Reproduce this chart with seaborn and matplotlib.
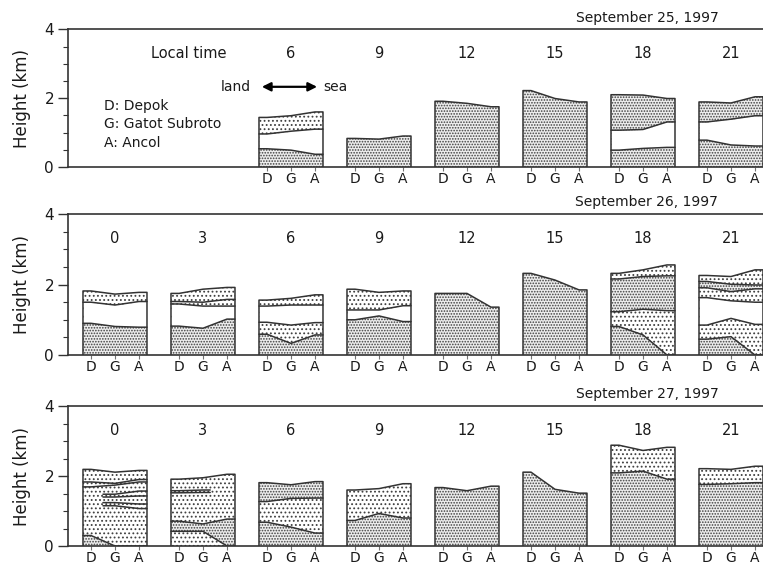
import numpy as np
import pandas as pd
import matplotlib
matplotlib.use("Agg")
import matplotlib.pyplot as plt
import seaborn as sns

nan = np.nan

days = ["September 25, 1997", "September 26, 1997", "September 27, 1997"]
hours = [0, 3, 6, 9, 12, 15, 18, 21]
stations = ["D", "G", "A"]
station_names = ["D: Depok", "G: Gatot Subroto", "A: Ancol"]

# Layer boundaries (km) at D, G, A, listed top to bottom.
# Code = fill below the line: 'd' dense dots, 's' sparse dots, 'w' clear, None = line only.
sep25 = {
    6:  [([1.44, 1.49, 1.60], 's'), ([0.96, 1.04, 1.10], 'w'), ([0.53, 0.49, 0.37], 'd')],
    9:  [([0.83, 0.81, 0.90], 'd')],
    12: [([1.91, 1.85, 1.75], 'd')],
    15: [([2.22, 1.99, 1.89], 'd')],
    18: [([2.10, 2.09, 1.99], 'd'), ([1.07, 1.09, 1.31], 'w'), ([0.49, 0.54, 0.57], 'd')],
    21: [([1.89, 1.86, 2.04], 'd'), ([1.31, 1.39, 1.49], 'w'), ([0.78, 0.64, 0.61], 'd')],
}
sep26 = {
    0:  [([1.82, 1.73, 1.78], 's'), ([1.50, 1.42, 1.52], 'w'), ([0.90, 0.81, 0.79], 'd')],
    3:  [([1.75, 1.87, 1.92], 's'), ([1.52, 1.50, 1.58], 's'), ([1.45, 1.39, 1.39], 'w'),
         ([0.82, 0.76, 1.02], 'd')],
    6:  [([1.56, 1.61, 1.71], 's'), ([1.39, 1.42, 1.42], 'w'), ([0.93, 0.85, 0.92], 's'),
         ([0.59, 0.33, 0.57], 'd')],
    9:  [([1.87, 1.78, 1.82], 's'), ([1.28, 1.28, 1.40], 'w'), ([1.00, 1.11, 0.95], 'd')],
    12: [([1.75, 1.75, 1.36], 'd')],
    15: [([2.32, 2.13, 1.85], 'd')],
    18: [([2.32, 2.42, 2.56], 's'), ([2.16, 2.23, 2.25], 'd'), ([1.23, 1.30, 1.26], 's'),
         ([0.81, 0.57, 0.00], 'd')],
    21: [([2.26, 2.23, 2.42], 's'), ([2.09, 2.01, 1.99], 'd'), ([1.91, 1.80, 1.88], 's'),
         ([1.63, 1.54, 1.50], 'w'), ([0.85, 1.04, 0.87], 's'), ([0.45, 0.52, 0.00], 'd')],
}
sep27 = {
    0:  [([2.19, 2.11, 2.16], 's'), ([1.83, 1.79, 1.90], None), ([1.69, 1.74, 1.83], None),
         ([nan, 1.48, 1.57], None), ([nan, 1.40, 1.43], None), ([nan, 1.24, 1.20], None),
         ([nan, 1.15, 1.07], None), ([0.30, 0.00, 0.00], 'd')],
    3:  [([1.91, 1.95, 2.05], 's'), ([1.58, 1.60, nan], None), ([1.52, 1.53, nan], None),
         ([0.71, 0.63, 0.77], 'd'), ([0.42, 0.42, 0.00], 's')],
    6:  [([1.81, 1.75, 1.84], 'd'), ([1.27, 1.36, 1.37], 's'), ([0.68, 0.54, 0.37], 'd')],
    9:  [([1.60, 1.64, 1.78], 's'), ([0.73, 0.93, 0.80], 'd')],
    12: [([1.67, 1.58, 1.71], 'd')],
    15: [([2.11, 1.62, 1.51], 'd')],
    18: [([2.88, 2.73, 2.82], 's'), ([2.09, 2.14, 1.91], 'd')],
    21: [([2.21, 2.19, 2.28], 's'), ([1.76, 1.78, 1.81], 'd')],
}
panels = [sep25, sep26, sep27]

# ---------------- style ----------------
sns.set_style("ticks")
plt.rcParams.update({
    "font.family": ["DejaVu Sans"],
    "hatch.linewidth": 0.8,
    "hatch.color": "0.3",
    "axes.edgecolor": "0.2",
    "axes.linewidth": 1.2,
    "xtick.color": "0.45",
    "ytick.color": "0.2",
    "xtick.labelcolor": "0.1",
    "ytick.labelcolor": "0.1",
    "text.color": "0.1",
    "axes.labelcolor": "0.1",
})

STEP = 11.0 / 3.0          # distance between groups (station spacing = 1)
EDGE = 1.0 / 3.0           # box margin beyond D and A
FILL = {'d': ('0.93', '......'), 's': ('white', '....'), 'w': ('white', None)}
LINE_C = "0.2"

fig = plt.figure(figsize=(7.63, 5.64), dpi=100)
boxes = [(0.0891, 0.7039, 0.9109, 0.2441),
         (0.0891, 0.3706, 0.9109, 0.2495),
         (0.0891, 0.0319, 0.9109, 0.2482)]

for p, (data, day, box) in enumerate(zip(panels, days, boxes)):
    ax = fig.add_axes(box)
    rows = []
    tick_pos, tick_lab = [], []
    uid = 0
    for gi, hr in enumerate(hours):
        off = gi * STEP
        if hr in data:
            layers = data[hr]
            xf = off + np.array([-EDGE, 0, 1, 2, 2 + EDGE])
            # fills (painter order, top layer first)
            for vals, code in layers:
                if code is None or np.any(np.isnan(vals)):
                    continue
                yf = np.array([vals[0], vals[0], vals[1], vals[2], vals[2]])
                fc, hatch = FILL[code]
                ax.fill_between(xf, 0, yf, facecolor=fc, edgecolor="0.25",
                                hatch=hatch, linewidth=0, zorder=1)
            # boundary lines
            for li, (vals, code) in enumerate(layers):
                v = np.array(vals, dtype=float)
                if li == 0:
                    xs = [off - EDGE] + list(xf) + [off + 2 + EDGE]
                    ys = [0, v[0], v[0], v[1], v[2], v[2], 0]
                elif np.isnan(v[0]):
                    xs = [off + 0.5, off + 1, off + 2, off + 2 + EDGE]
                    ys = [v[1], v[1], v[2], v[2]]
                elif np.isnan(v[2]):
                    xs = [off - EDGE, off, off + 1, off + 1.3]
                    ys = [v[0], v[0], v[1], v[1]]
                else:
                    xs = list(xf)
                    ys = [v[0], v[0], v[1], v[2], v[2]]
                for x_, y_ in zip(xs, ys):
                    rows.append({"x": x_, "y": y_, "uid": uid})
                uid += 1
            for s, st in enumerate(stations):
                tick_pos.append(off + s)
                tick_lab.append(st)
        # local time labels
        if hr in data or p > 0:
            ax.text(off + 1, 3.3, str(hr), ha="center", va="center", fontsize=10.5)
    df = pd.DataFrame(rows)
    sns.lineplot(data=df, x="x", y="y", units="uid", estimator=None, sort=False,
                 color=LINE_C, linewidth=1.1, ax=ax, legend=False, zorder=3)

    ax.set_xlim(-23.0 / 24.0, 28.0)
    ax.set_ylim(0, 4)
    ax.set_xticks(tick_pos)
    ax.set_xticklabels(tick_lab)
    ax.set_yticks([0, 2, 4])
    ax.set_yticks(np.arange(0, 4.01, 0.5), minor=True)
    ax.tick_params(axis="x", length=3, width=0.8, pad=0.5, labelsize=10)
    ax.tick_params(axis="y", which="major", length=7, width=1.0, pad=3, labelsize=11)
    ax.tick_params(axis="y", which="minor", length=3.5, width=0.8)
    ax.spines["right"].set_visible(False)
    ax.set_xlabel("")
    ax.set_ylabel("Height (km)", fontsize=12, labelpad=10)

    ax.annotate(day, xy=(0.833, 1.0), xycoords="axes fraction", xytext=(0, 8.5),
                textcoords="offset points", ha="center", va="center", fontsize=10)

    if p == 0:
        ax.text(4.08, 3.3, "Local time", ha="center", va="center", fontsize=10.5)
        ax.text(6.04, 2.33, "land", ha="center", va="center", fontsize=10)
        ax.text(10.17, 2.33, "sea", ha="center", va="center", fontsize=10)
        ax.annotate("", xy=(9.42, 2.33), xytext=(7.12, 2.33),
                    arrowprops=dict(arrowstyle="<|-|>", color="black", lw=1.6,
                                    mutation_scale=13, shrinkA=0, shrinkB=0))
        for name, yy in zip(station_names, [1.77, 1.25, 0.70]):
            ax.text(0.54, yy, name, ha="left", va="center", fontsize=10)

fig.savefig("out.png", dpi=100)
